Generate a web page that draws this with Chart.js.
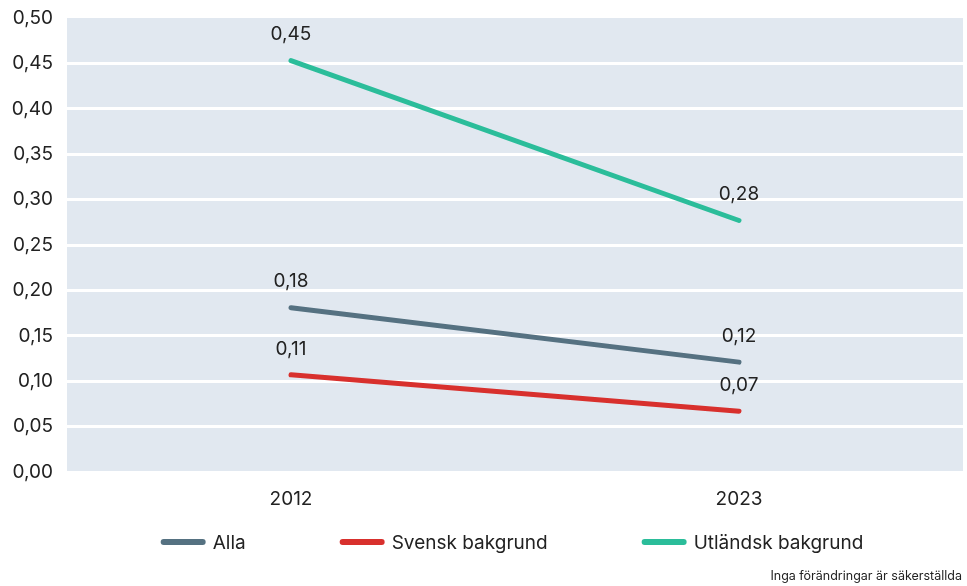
<!DOCTYPE html>
<html lang="sv">
<head>
    <meta charset="UTF-8">
    <title>Inga förändringar är säkerställda</title>
    <script src="https://cdn.jsdelivr.net/npm/chart.js"></script>
    <style>
        body {
            margin: 0;
            background: #fff;
            font-family: Inter, "Open Sans", sans-serif;
        }
        .wrap {
            position: relative;
            width: 967px;
            height: 586px;
        }
        .note {
            position: absolute;
            right: 5px;
            bottom: 3px;
            font-size: 12.5px;
            color: #222;
        }
    </style>
</head>
<body>
    <div class="wrap">
        <canvas id="chart" width="967" height="586"></canvas>
        <div class="note">Inga förändringar är säkerställda</div>
    </div>

    <script>
        const years = ["2012", "2023"];
        const alla = [0.181, 0.121];
        const svensk = [0.107, 0.067];
        const utlandsk = [0.453, 0.277];
        const seriesNames = ["Alla", "Svensk bakgrund", "Utländsk bakgrund"];
        const seriesColors = ["#557181", "#d8302d", "#2bbd9a"];

        const FONT = "Inter, 'Open Sans', sans-serif";
        const fmt = v => v.toFixed(2).replace(".", ",");

        // light blue plot background
        const bgPlugin = {
            id: "bg",
            beforeDraw(chart) {
                const a = chart.chartArea;
                const ctx = chart.ctx;
                ctx.save();
                ctx.fillStyle = "#e1e8f0";
                ctx.fillRect(a.left, a.top, a.right - a.left, a.bottom - a.top);
                ctx.restore();
            }
        };

        // value labels above points + legend below the axis
        const labelPlugin = {
            id: "labels",
            afterDatasetsDraw(chart) {
                const ctx = chart.ctx;
                ctx.save();
                ctx.font = "19px " + FONT;
                ctx.fillStyle = "#222";
                ctx.textAlign = "center";
                ctx.textBaseline = "middle";
                chart.data.datasets.forEach((ds, i) => {
                    chart.getDatasetMeta(i).data.forEach((pt, j) => {
                        ctx.fillText(fmt(ds.data[j]), pt.x, pt.y - 26);
                    });
                });

                // legend
                const y = 542;
                const lineW = 45, gap = 7, pad = 94;
                const widths = seriesNames.map(n => lineW + gap + ctx.measureText(n).width);
                const total = widths.reduce((s, w) => s + w, 0) + pad * (widths.length - 1);
                const a = chart.chartArea;
                let x = (a.left + a.right) / 2 - total / 2 - 3;
                ctx.textAlign = "left";
                seriesNames.forEach((n, i) => {
                    ctx.strokeStyle = seriesColors[i];
                    ctx.lineWidth = 6;
                    ctx.lineCap = "round";
                    ctx.beginPath();
                    ctx.moveTo(x + 3, y);
                    ctx.lineTo(x + lineW - 3, y);
                    ctx.stroke();
                    ctx.fillText(n, x + lineW + gap, y + 1);
                    x += widths[i] + pad;
                });
                ctx.restore();
            }
        };

        const mkSet = (label, data, color) => ({
            label: label,
            data: data,
            borderColor: color,
            backgroundColor: color,
            borderWidth: 5,
            borderCapStyle: "round",
            pointRadius: 0,
            tension: 0
        });

        new Chart(document.getElementById("chart"), {
            type: "line",
            data: {
                labels: years,
                datasets: [
                    mkSet(seriesNames[0], alla, seriesColors[0]),
                    mkSet(seriesNames[1], svensk, seriesColors[1]),
                    mkSet(seriesNames[2], utlandsk, seriesColors[2])
                ]
            },
            options: {
                responsive: false,
                animation: false,
                layout: {
                    padding: { top: 18, right: 4, left: 0, bottom: 69 }
                },
                plugins: {
                    legend: { display: false },
                    tooltip: { enabled: false }
                },
                scales: {
                    x: {
                        offset: true,
                        grid: { display: false },
                        border: { display: false },
                        ticks: {
                            color: "#222",
                            font: { size: 19, family: FONT },
                            padding: 8
                        },
                        afterFit(scale) { scale.height = 45; }
                    },
                    y: {
                        min: 0,
                        max: 0.5,
                        border: { display: false },
                        grid: {
                            color: ctx => ctx.tick && ctx.tick.value >= 0.5 ? "rgba(0,0,0,0)" : "#ffffff",
                            lineWidth: 3,
                            drawTicks: false
                        },
                        ticks: {
                            stepSize: 0.05,
                            color: "#222",
                            font: { size: 19, family: FONT },
                            padding: 14,
                            callback: v => fmt(v)
                        },
                        afterFit(scale) {
                            scale.width = 67;
                            scale.paddingTop = 0;
                            scale.paddingBottom = 0;
                        }
                    }
                }
            },
            plugins: [bgPlugin, labelPlugin]
        });
    </script>
</body>
</html>
